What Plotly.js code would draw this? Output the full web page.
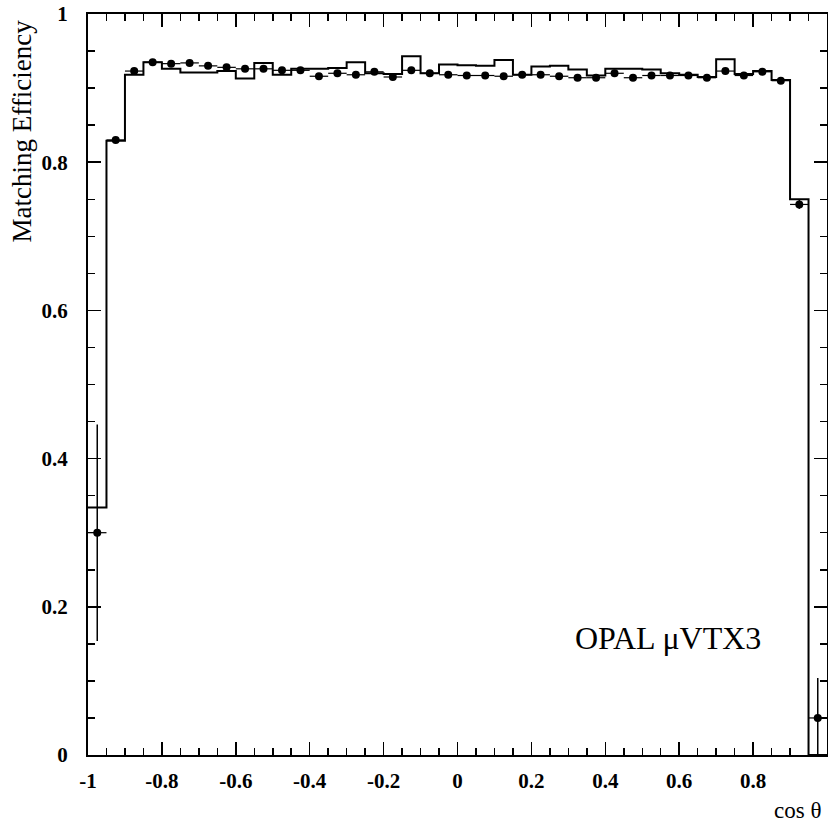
<!DOCTYPE html>
<html>
<head>
<meta charset="utf-8">
<script src="https://cdn.plot.ly/plotly-3.0.1.min.js"></script>
<style>html,body{margin:0;padding:0;background:#fff;}#chart{width:828px;height:825px;}</style>
</head>
<body>
<div id="chart"></div>
<script>
// bin centres in cos(theta), bin width 0.05
const cosTheta = [-0.975,-0.925,-0.875,-0.825,-0.775,-0.725,-0.675,-0.625,-0.575,-0.525,
                  -0.475,-0.425,-0.375,-0.325,-0.275,-0.225,-0.175,-0.125,-0.075,-0.025,
                   0.025, 0.075, 0.125, 0.175, 0.225, 0.275, 0.325, 0.375, 0.425, 0.475,
                   0.525, 0.575, 0.625, 0.675, 0.725, 0.775, 0.825, 0.875, 0.925, 0.975];
const binHalfWidth = 0.025;
// Monte Carlo matching efficiency (histogram)
const mcEff = [0.334,0.829,0.918,0.935,0.926,0.921,0.921,0.923,0.913,0.934,
               0.918,0.926,0.926,0.927,0.935,0.920,0.919,0.943,0.920,0.932,
               0.931,0.930,0.938,0.918,0.929,0.930,0.925,0.917,0.926,0.926,
               0.925,0.920,0.918,0.915,0.939,0.919,0.923,0.911,0.750,0.000];
// data matching efficiency (points) and errors
const dataEff = [0.300,0.830,0.923,0.935,0.933,0.934,0.930,0.928,0.926,0.926,
                 0.924,0.924,0.916,0.920,0.918,0.922,0.915,0.924,0.920,0.918,
                 0.917,0.917,0.916,0.918,0.918,0.916,0.914,0.914,0.920,0.914,
                 0.917,0.917,0.917,0.914,0.923,0.917,0.922,0.910,0.743,0.050];
const dataErr = [0.146,0.004,0.003,0.003,0.003,0.003,0.003,0.003,0.003,0.003,
                 0.003,0.003,0.003,0.003,0.003,0.003,0.003,0.003,0.003,0.003,
                 0.003,0.003,0.003,0.003,0.003,0.003,0.003,0.003,0.003,0.003,
                 0.003,0.003,0.003,0.003,0.003,0.003,0.003,0.003,0.006,0.054];
const xTickVals = [-1,-0.8,-0.6,-0.4,-0.2,0,0.2,0.4,0.6,0.8,1];
const xTickText = ["-1","-0.8","-0.6","-0.4","-0.2","0","0.2","0.4","0.6","0.8","1"];
const yTickVals = [0,0.2,0.4,0.6,0.8,1];
const yTickText = ["0","0.2","0.4","0.6","0.8","1"];

const histX = cosTheta.map(c => c - binHalfWidth).concat([cosTheta[cosTheta.length-1] + binHalfWidth]);
const histY = mcEff.concat([mcEff[mcEff.length-1]]);

const serif = "Liberation Serif, Times New Roman, serif";
const tickFont = {family: serif, size: 21, color: "#000", weight: "bold"};

const traces = [
  {x: histX, y: histY, type: "scatter", mode: "lines",
   line: {shape: "hv", color: "#000", width: 2}, hoverinfo: "skip"},
  {x: cosTheta, y: dataEff, type: "scatter", mode: "markers",
   marker: {color: "#000", size: 8},
   error_y: {type: "data", array: dataErr, visible: true, color: "#000", thickness: 1.5, width: 0},
   error_x: {type: "constant", value: binHalfWidth, visible: true, color: "#000", thickness: 1.2, width: 0}}
];

const axisCommon = {
  showgrid: false, zeroline: false, showline: true, linecolor: "#000", linewidth: 2,
  mirror: "ticks", ticks: "inside", ticklen: 13, tickwidth: 1.5, tickcolor: "#000",
  tickmode: "array", tickfont: tickFont,
  minor: {tickmode: "linear", tick0: 0, dtick: 0.05, ticks: "inside", ticklen: 7,
          tickwidth: 1.5, tickcolor: "#000", showgrid: false}
};

const layout = {
  width: 828, height: 825,
  margin: {l: 88, r: 1, t: 14, b: 70, pad: 0},
  paper_bgcolor: "#fff", plot_bgcolor: "#fff",
  showlegend: false,
  xaxis: Object.assign({}, axisCommon, {range: [-1, 1], tickvals: xTickVals, ticktext: xTickText, ticklabelstandoff: 6}),
  yaxis: Object.assign({}, axisCommon, {range: [0, 1], tickvals: yTickVals, ticktext: yTickText, ticklabelstandoff: 14}),
  annotations: [
    {text: "OPAL \u03bcVTX3", xref: "x", yref: "y", x: 0.569, y: 0.158, showarrow: false,
     font: {family: serif, size: 32, color: "#000"}},
    {text: "Matching Efficiency", xref: "paper", yref: "paper", x: -0.089, y: 0.995,
     xanchor: "center", yanchor: "top", textangle: -90, showarrow: false,
     font: {family: serif, size: 27, color: "#000"}},
    {text: "cos \u03b8", xref: "paper", yref: "paper", x: 0.995, y: -0.0755,
     xanchor: "right", yanchor: "middle", showarrow: false,
     font: {family: serif, size: 23, color: "#000"}}
  ]
};

Plotly.newPlot("chart", traces, layout, {displayModeBar: false, staticPlot: true});
</script>
</body>
</html>
